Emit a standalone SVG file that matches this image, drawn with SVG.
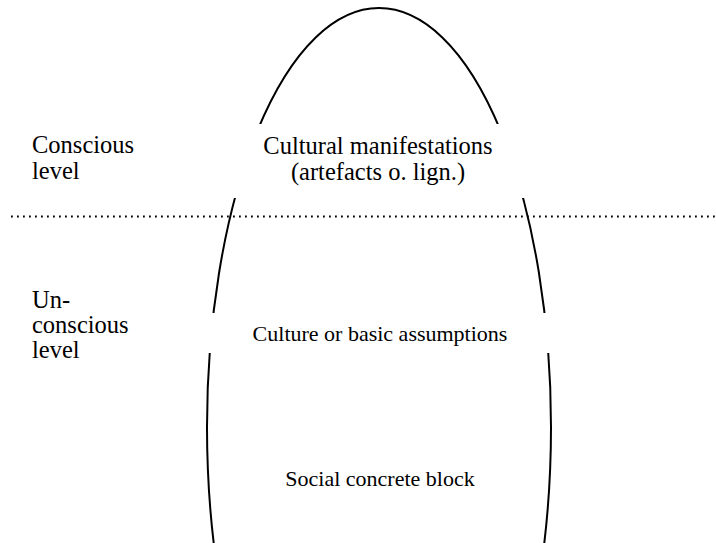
<svg xmlns="http://www.w3.org/2000/svg" width="716" height="543" viewBox="0 0 716 543">
  <style>
    text { font-family: 'Liberation Serif', 'Times New Roman', serif; font-size: 24.5px; fill: #000; }
    .c { text-anchor: middle; }
    .s { font-size: 22px; }
    .egg { fill: none; stroke: #000; stroke-width: 2; }
    .dots { stroke: #000; stroke-width: 2; stroke-dasharray: 1.8 4.2; fill: none; }
  </style>
  <defs>
    <clipPath id="gaps">
      <rect x="0" y="0" width="716" height="124"/>
      <rect x="0" y="198" width="716" height="115"/>
      <rect x="0" y="353" width="716" height="190"/>
    </clipPath>
  </defs>
  <rect width="716" height="543" fill="#fff"/>
  <g id="connectors">
    <line class="dots" x1="11" y1="216.5" x2="716" y2="216.5"/>
  </g>
  <g id="egg">
    <ellipse class="egg" cx="379" cy="427" rx="172" ry="419" clip-path="url(#gaps)"/>
  </g>
  <g id="conscious-label">
    <text x="32" y="153">Conscious</text>
    <text x="32" y="179">level</text>
  </g>
  <g id="unconscious-label">
    <text x="32" y="308">Un-</text>
    <text x="32" y="333">conscious</text>
    <text x="32" y="358">level</text>
  </g>
  <g id="manifestations">
    <text class="c" x="378" y="154">Cultural manifestations</text>
    <text class="c" x="378" y="180">(artefacts o. lign.)</text>
  </g>
  <g id="assumptions">
    <text class="c s" x="380" y="341">Culture or basic assumptions</text>
  </g>
  <g id="social-block">
    <text class="c s" x="380" y="486">Social concrete block</text>
  </g>
</svg>
